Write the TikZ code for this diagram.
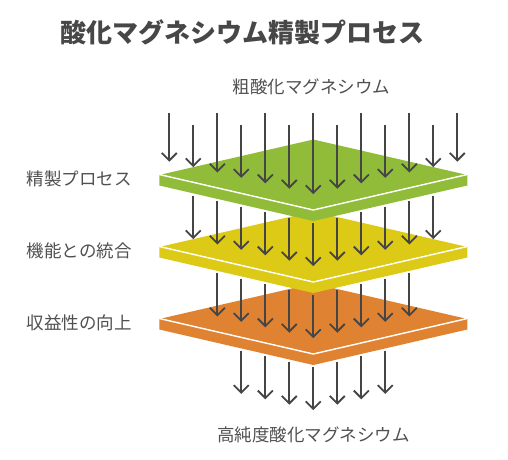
\documentclass[tikz,border=0pt]{standalone}
\usepackage{fontspec}
\newfontfamily\jp{Noto Sans CJK JP}
\usetikzlibrary{arrows.meta}
\definecolor{plgreen}{HTML}{90BC3A}
\definecolor{plyellow}{HTML}{DDCA16}
\definecolor{plorange}{HTML}{DF8332}
\definecolor{arrowgray}{HTML}{454545}
\definecolor{textgray}{HTML}{505050}
\definecolor{titlegray}{HTML}{474747}
\tikzset{
  arr/.style={draw=arrowgray, line width=1.8pt, -{Straight Barb[length=7.5pt,width=15pt]}},
  lbl/.style={font=\jp\fontsize{17.5}{20}\selectfont, text=textgray, inner sep=0pt},
  sidelbl/.style={lbl, anchor=east},
  ttl/.style={font=\jp\bfseries\fontsize{26}{30}\selectfont, text=titlegray, inner sep=0pt}
}
\begin{document}
\begin{tikzpicture}[x=1pt,y=-1pt]
\useasboundingbox (0,0) rectangle (508,459);
% plates, drawn from back (bottom) to front (top)
\foreach \r/\c in {2/plorange,1/plyellow,0/plgreen}{
  \pgfmathsetmacro{\dy}{72*\r}
  \fill[\c] (159.3,{174.5+\dy}) -- (159.3,{185.5+\dy}) -- (313.3,{221+\dy})
        -- (467.3,{185.5+\dy}) -- (467.3,{174.5+\dy}) -- (313.3,{210+\dy}) -- cycle;
  \fill[\c] (161.3,{174.5+\dy}) -- (313.3,{139.5+\dy}) -- (465.3,{174.5+\dy})
        -- (313.3,{209.5+\dy}) -- cycle;
  \draw[white, line width=1.4pt] (159.3,{174.5+\dy}) -- (313.3,{210+\dy}) -- (467.3,{174.5+\dy});
}
% top row of arrows
\foreach \i in {0,...,12}{
  \pgfmathsetmacro{\xx}{169.3+24*\i}
  \pgfmathsetmacro{\d}{6-abs(\i-6)}
  \pgfmathsetmacro{\ys}{mod(\i,2)==0 ? 113.3 : 125.3}
  \pgfmathsetmacro{\yt}{161.7+5.4*\d}
  \coordinate (s0-\i) at (\xx,\ys);
  \coordinate (t0-\i) at (\xx,\yt);
  \draw[arr] (s0-\i) -- (t0-\i);
}
% lower rows of arrows
\foreach \r in {1,2,3}{
  \pgfmathtruncatemacro{\lo}{\r}
  \pgfmathtruncatemacro{\hi}{12-\r}
  \foreach \i in {\lo,...,\hi}{
    \pgfmathsetmacro{\xx}{169.3+24*\i}
    \pgfmathsetmacro{\d}{6-abs(\i-6)}
    \pgfmathsetmacro{\ys}{196+5.4*(\d-1)+72*(\r-1)}
    \pgfmathsetmacro{\yt}{161.7+5.4*\d+72*\r}
    \coordinate (s\r-\i) at (\xx,\ys);
    \coordinate (t\r-\i) at (\xx,\yt);
    \draw[arr] (s\r-\i) -- (t\r-\i);
  }
}
% texts
\node[ttl] (title) at (242.5,32) {酸化マグネシウム精製プロセス};
\node[lbl] (input) at (311.7,87) {粗酸化マグネシウム};
\node[lbl] (output) at (313.7,435) {高純度酸化マグネシウム};
\node[sidelbl] (l1) at (132,179) {精製プロセス};
\node[sidelbl] (l2) at (132,251) {機能との統合};
\node[sidelbl] (l3) at (132,323) {収益性の向上};
\end{tikzpicture}
\end{document}
